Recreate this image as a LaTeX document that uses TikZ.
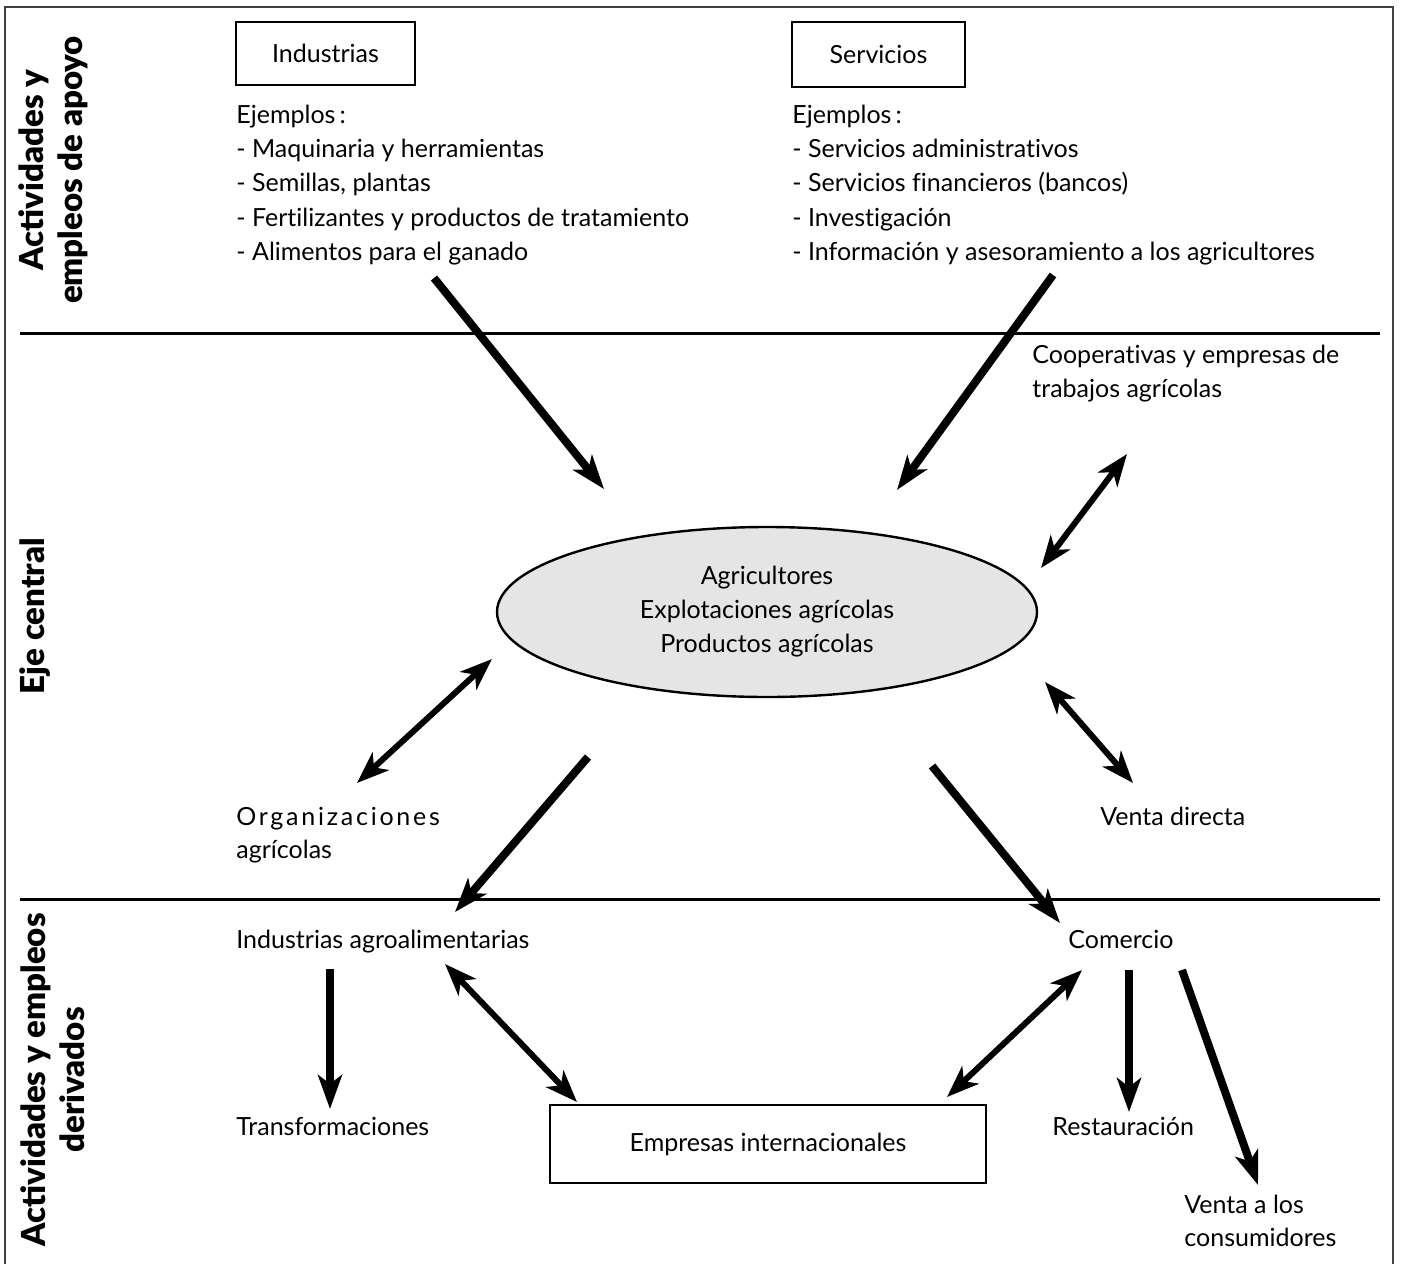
\documentclass[tikz,border=0pt]{standalone}
\usepackage{fontspec}
\setmainfont{Lato}[Ligatures={NoCommon}]
\newfontfamily\labfont{Lato}[UprightFont={* Black}]
\usetikzlibrary{arrows.meta,calc,shapes.geometric}
\begin{document}
\begin{tikzpicture}[x=0.5pt,y=-0.5pt,
  txt/.style={anchor=base west,inner sep=0pt,font=\fontsize{12.5}{17}\selectfont},
  boxnode/.style={draw,line width=1pt,inner sep=0pt,font=\fontsize{12.5}{17}\selectfont},
  side/.style={rotate=90,align=center,inner sep=0pt,font=\fontsize{16.5}{19.5}\selectfont\labfont},
  arr/.style={line width=4pt,-{Stealth[length=17pt,width=12pt,inset=4.5pt]}},
  darr/.style={line width=3pt,{Stealth[length=16pt,width=12pt,inset=4.5pt]}-{Stealth[length=16pt,width=12pt,inset=4.5pt]}},
  divider/.style={line width=1.5pt},
]
\useasboundingbox (0,0) rectangle (1401,1263);
% frame
\draw[line width=1pt,black!75] (5,1280) -- (5,7) -- (1393,7) -- (1393,1280);
\draw[divider] (20,333) -- (1380,333);
\draw[divider] (20,899) -- (1380,899);

% side labels
\node[side] (lab1) at (53,170) {Actividades y\\empleos de apoyo};
\node[side] (lab2) at (35,616) {Eje central};
\node[side] (lab3) at (53,1080) {Actividades y empleos\\derivados};

% top boxes
\node[boxnode,minimum width=89.5pt,minimum height=31.5pt] (ind) at (325.5,53.5) {Industrias};
\node[boxnode,minimum width=86.5pt,minimum height=32.5pt] (serv) at (878.5,54.5) {Servicios};

% lists
\node[txt] (i0) at (236,123) {Ejemplos\,:};
\node[txt] (i1) at (236,157.5) {- Maquinaria y herramientas};
\node[txt] (i2) at (236,191.5) {- Semillas, plantas};
\node[txt] (i3) at (236,226) {- Fertilizantes y productos de tratamiento};
\node[txt] (i4) at (236,260) {- Alimentos para el ganado};

\node[txt] (s0) at (792,123) {Ejemplos\,:};
\node[txt] (s1) at (792,157.5) {- Servicios administrativos};
\node[txt] (s2) at (792,191.5) {- Servicios financieros (bancos)};
\node[txt] (s3) at (792,226) {- Investigación};
\node[txt] (s4) at (792,260) {- Información y asesoramiento a los agricultores};

% central
\node[ellipse,draw,line width=1.2pt,fill=black!10,minimum width=270pt,minimum height=85pt,inner sep=0pt,align=center,font=\fontsize{12.5}{17}\selectfont] (ell) at (767,612) {Agricultores\\Explotaciones agrícolas\\Productos agrícolas};

\node[txt] (c1) at (1032,363) {Cooperativas y empresas de};
\node[txt] (c2) at (1032,397) {trabajos agrícolas};

\node[txt] (o1) at (236,825) {\addfontfeature{LetterSpace=11}Organizaciones};
\node[txt] (o2) at (236,858) {agrícolas};
\node[txt] (vdir) at (1100,825) {Venta directa};

% bottom
\node[txt] (iagro) at (236,948) {Industrias agroalimentarias};
\node[txt] (com) at (1068,948) {Comercio};
\node[txt] (trans) at (236,1135) {Transformaciones};
\node[txt] (rest) at (1052,1135) {Restauración};
\node[txt] (v1) at (1184,1213) {Venta a los};
\node[txt] (v2) at (1184,1246) {consumidores};
\node[boxnode,minimum width=218pt,minimum height=39pt] (emp) at (768,1144) {Empresas internacionales};

% arrows
\draw[arr] ($(i4.base west)+(198,18)$) -- ($(ell.center)+(-163,-123)$);
\draw[arr] ($(s4.base west)+(261,15)$) -- ($(ell.center)+(130,-122)$);
\draw[darr] ($(ell.center)+(274,-44)$) -- ($(c2.base west)+(95,57)$);
\draw[darr] ($(o1.base west)+(121,-42)$) -- ($(ell.center)+(-275,47)$);
\draw[arr] ($(ell.center)+(-179,145)$) -- ($(iagro.base west)+(219,-36)$);
\draw[arr] ($(ell.center)+(165,154)$) -- ($(com.base west)+(-8,-25)$);
\draw[darr] ($(ell.center)+(278,70)$) -- ($(vdir.base west)+(33,-42)$);
\draw[arr] ($(iagro.base west)+(94,21)$) -- ($(trans.base west)+(94,-26)$);
\draw[darr] ($(iagro.base west)+(209,16)$) -- ($(emp.center)+(-191,-42)$);
\draw[darr] ($(com.base west)+(14,22)$) -- ($(emp.center)+(179,-47)$);
\draw[arr] ($(com.base west)+(61,22)$) -- ($(rest.base west)+(77,-23)$);
\draw[arr] ($(com.base west)+(114,22)$) -- ($(v1.base west)+(74,-28)$);
\end{tikzpicture}
\end{document}
